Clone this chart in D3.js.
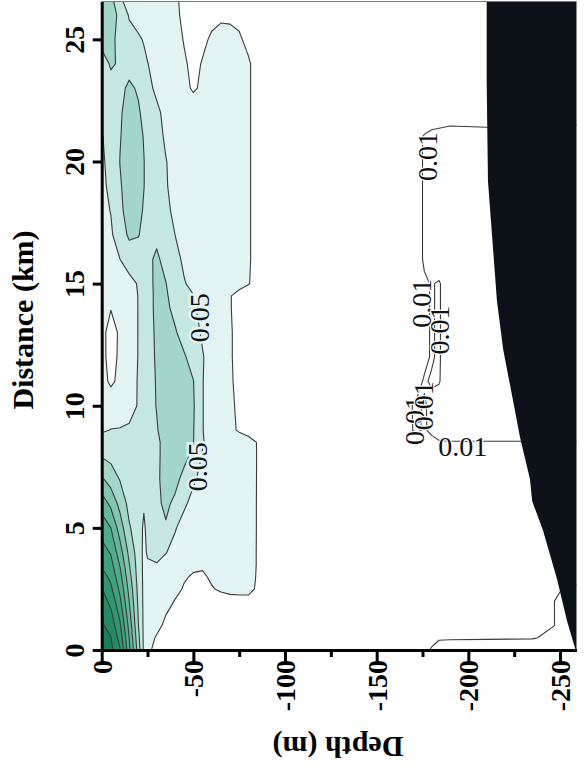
<!DOCTYPE html>
<html><head><meta charset="utf-8">
<script src="https://cdn.jsdelivr.net/npm/d3@7"></script>
<style>
html,body{margin:0;padding:0;background:#fff;}
svg{display:block;}
</style></head><body>
<svg id="chart" width="584" height="770"></svg>
<script>
// ---------------- DATA ----------------
// depth of each grid column (m)
const depthCols = [0,-5,-10,-15,-20,-23,-25,-30,-35,-40,-45,-50,-55,-60,-65,-70,-75,-80,-85,-90,-110,-140,-165,-172,-176,-180,-184,-190,-210,-235,-259];
// distance of each grid row (km)
const distRows = [0,0.5,1,2,2.5,3,3.5,4,5,6,7,8,8.5,9,10,11,12,13,14,14.5,15,16,17,18,19,20,21,22,23,24,25,26,26.6];
// field values, in units of 1e-3 (one row per distance, one entry per depth column)
const field_x1000 = [
[222,215,192,135,80,46,33, 26,24,23,22,22,22,21,21,21,21,21,21,20, 18,15,11,10.8,10.5,9.8,8,8,8,8,8],
[218,210.8,181.7,130,75,46,36, 28.5,25,24,23,23,23,22,22,22,22,22,22,21, 18,15,12,11.5,11,10.6,10.5,10.4,10.3,10.2,8.5],
[213,202.5,173.3,123.3,70.5,46,40, 34,27,25,24,24,24,24,24,24,24,24,23,22, 19,16,13,12.5,12,11.8,11.6,11.5,11.2,11,9],
[199,184.7,154,110,66,46,43, 40,34,29.5,27,26,26,26.5,27,27.5,28,28,27,25, 19,16,13,12.5,12,11.8,11.6,11.5,11.2,11,9],
[191.5,174.2,145,104,64,46,44, 41,37,33,29,28,28.5,29.5,31,32,32,32,29,26, 20,16,13,13,12.5,12,12,12,11.5,11,9.5],
[178.6,165,136.7,97.2,62,46,44, 42,39,35,31,29,29,31,33,34,34,34,29,25, 20,17,14,13.5,13,12.5,12.5,12.5,12,12,11],
[166.7,156.7,128.1,90.8,61,46,48, 49.5,46,40,35,32,31,33,35,36,36,36,29,25, 20,17,14,13.5,13,12.5,12.5,12.5,12,12,11.5],
[158.3,148.2,118.6,84.7,60,46,52, 53,50.5,46,41,37,35,35,36,37,37,36,29,25, 20,17,14,13.5,13,12.5,12.5,12.5,12,12,11.5],
[141.7,130,100.4,72.1,59,47,55, 63,68,51,45,41,38,37,37,37,37,37,29,25, 20,17,14,13.5,13,12.5,12.5,12.5,12,12,12],
[121.4,105,83.3,64,58,52,57, 66,74,66,52,46,41,39,38,38,38,37,29,25, 20,17,14,13.5,13,12.5,12.5,12.5,12,12,12],
[92.9,81.1,68.7,62,58,56,57, 66,78,76,64,52,46,42,40,39,39,38,29,25, 20,17,14,13.5,13,12.5,12.5,12.5,12,12,12],
[67.1,63.5,62,58,56,55,56, 64,80,82,76,66,49,44,41,40,40,39,29,25, 20,17,13,12.5,12,12,12,12,12,12,12],
[57.6,57,54,53,53,54,56, 64,80,83,79,70.5,51,45,41,39,37,34,29.5,25, 19,16,12,11.5,11,10.8,10.3,10.2,10.2,10.2,10.2],
[48,50.5,51,52,53,55,58, 68,82,86,84,71,50.5,44,40,33,28.5,26,25,24, 19,15,10.8,9.6,10.3,9.4,8.5,8,8,8,8],
[42,40,41,45,51,56,60, 71,84,88,86,72,50.5,44,38,32,28,26,25,24, 19,15,10.5,9.7,10.2,9.5,8.5,8,8,8,8],
[36,27,34,44,51,55,58, 72,84,88,84,70.5,50.5,44,38,31,28,26,25,24, 20,16,11.5,10.6,9.8,10.2,10.2,8,8,8,8],
[35,24,33,43,50.5,54,57, 74,82,82,72,62,51,44,38,31,27,25,24,23, 20,16,12,11,10.5,9.8,10.3,8,8,8,8],
[34,25,32,42,50.5,54,58, 75,78,72,62,56,48,42,37,31,27,25,24,23, 20,16,12,11,10.5,9.8,10.3,8,8,8,8],
[34,30.5,33,42,50.5,56,60, 76,74,65,58,52,45,41,36,30.5,27,25,24,23, 20,16,12,11,10.5,9.8,10.3,8,8,8,8],
[34,33,35,43,50.5,56,60, 76,72.5,62,56,50.5,45,41,36,30.5,27,25,24,23, 20,16,12,11,10.5,9.8,10.3,8,8,8,8],
[40,41,43,46,51,55,60, 77,70.5,60,51,46,42,39,37,35,33,30.5,27,25, 20,16,12,11,10.5,9.8,10.3,8,8,8,8],
[38,42,50,56,60,63,66, 73,64,55,47,42,39,37,35,34,32.5,31,27,25, 21,17,13,11.5,9.5,8,8,8,8,8,8],
[43,48,58,74,71,65,64, 66,60,50,45,41,38,36,35,34,33,31,27,25, 21,17,13,11.5,9.5,8,8,8,8,8,8],
[46,50.5,66,78,76,68,63, 58,53,47,43,40,38,36,35,34,33,31,27,25, 21,17,13,11.5,9.5,8,8,8,8,8,8],
[47,53,68,80,78,70.5,65, 58,51,46,42,39,37,36,35,34,33,31,27,25, 21,17,13,11.5,9.5,8,8,8,8,8,8],
[48,54,70.5,80,78,70.5,65, 57,50.5,46,42,39,37,36,35,34,33,31,27,25, 21,17,13,11.5,9.5,8,8,8,8,8,8],
[49,56,69,79,76,69,64, 55,48,45,41,38,37,36,35,34,33,31,27,25, 21,17,13,11.5,9.5,8.5,8,7.5,8,8.5,8],
[52,58,68,77,72,66,62, 53,46,43,40,37,36,35,35,34,33,31,27,25, 22,18,15,14,14,13.5,13.5,13,13,12.5,12],
[60,64,66,73,68,58,54, 47,42,38,33,28.5,32,34,34,34,33,31,27,25, 22,18,15,14,14,13.5,13.5,13,13,12.5,12],
[62,72,68,64,58,53,50.5, 44,40,36,31,28,30.5,33,34,34,33,31,27,25, 22,18,15,14,14,13.5,13.5,13,13,12.5,12],
[76,74,65,58,52,49,46, 41,37,33,29.5,27,28.5,31,33,32.5,31,28,26,24, 22,18,15,14,14,13.5,13.5,13,13,12.5,12],
[78,77,66,48,44,41,39, 36,34,31,29,27,27,28,28.5,28.5,28,26,25,24, 22,18,15,14,14,13.5,13.5,13,13,12.5,12],
[78,77,52,45,42,40,38, 35,33,31,28.5,27,27,27,27.5,27.5,27,26,25,24, 22,18,15,14,14,13.5,13.5,13,13,12.5,12]
];
const levels = [0.01,0.03,0.05,0.07,0.09,0.11,0.13,0.15,0.17,0.19,0.21,0.23];
const bandColors = [null,"#e2f3f3","#c4e7e1","#a2d6ca","#80c6b1","#64b99c","#4eae8b","#3da37d","#2f9870","#238c63","#198059","#11744e"];
// bottom (bathymetry)
const bathyDist  = [0, 1.2, 2.9, 4.9, 6.1, 7, 8.7, 10.2, 12.3, 14.3, 16.4, 19.2, 23.3, 26.6];
const bathyDepth = [-258.5,-253.8,-248.4,-240.7,-234.8,-233.6,-228.2,-224.4,-219,-215.6,-213.5,-210.7,-210,-210];
// axes
const depthTicks = [0,-50,-100,-150,-200,-250];
const depthMinorTicks = [-25,-75,-125,-175,-225];
const distTicks = [0,5,10,15,20,25];
// contour labels
const labelText  = ["0.05","0.05","0.01","0.01","0.01","0.01","0.01","0.01"];
const labelDepth = [-53.6,-52,-177.5,-174.7,-184,-170.4,-175.8,-197];
const labelDist  = [13.6,7.5,20.2,14.2,13.1,9.4,10.0,8.35];
const labelRot   = [-90,-90,-90,-90,-90,-90,-90,0];

// ---------------- CHART ----------------
const svg = d3.select("#chart");
const x = d3.scaleLinear().domain([0,-259]).range([101.7,576.5]);
const y = d3.scaleLinear().domain([0,26.55]).range([650,1.5]);
const serif = "'Liberation Serif','Times New Roman',serif";

svg.append("defs").append("clipPath").attr("id","plot")
  .append("rect").attr("x",x(0)).attr("y",y(26.55))
  .attr("width",x(-259)-x(0)).attr("height",y(0)-y(26.55));

// padded grid
const nc = depthCols.length, nr = distRows.length;
const n = nc+2, m = nr+2;
const values = new Array(n*m);
for (let j=0;j<m;j++){
  const row = field_x1000[Math.min(nr-1,Math.max(0,j-1))];
  for (let i=0;i<n;i++){
    values[j*n+i] = row[Math.min(nc-1,Math.max(0,i-1))]/1000;
  }
}
const colMap = d3.scaleLinear().domain(d3.range(n)).range([10,...depthCols,-275]).clamp(true);
const rowMap = d3.scaleLinear().domain(d3.range(m)).range([-1,...distRows,27.8]).clamp(true);
const proj = d3.geoTransform({point:function(px,py){
  this.stream.point(x(colMap(px-0.5)), y(rowMap(py-0.5)));
}});
const path = d3.geoPath(proj);
const contours = d3.contours().size([n,m]).thresholds(levels)(values);

const g = svg.append("g").attr("clip-path","url(#plot)");
g.selectAll("path.fill").data(contours.filter((c,k)=>bandColors[k]))
  .join("path").attr("class","fill")
  .attr("d",path).attr("fill",(c)=>bandColors[levels.indexOf(c.value)]).attr("stroke","none");
g.selectAll("path.line").data(contours).join("path").attr("class","line")
  .attr("d",path).attr("fill","none").attr("stroke","#3a3a3a").attr("stroke-width",1.1)
  .attr("stroke-linejoin","round");

// bathymetry
const bathyPts = bathyDist.map((s,i)=>[bathyDepth[i],s]);
const bathyPoly = [...bathyPts,[-262,26.6],[-262,0]];
g.append("path")
  .attr("d", d3.line().x(p=>x(p[0])).y(p=>y(p[1]))(bathyPoly)+"Z")
  .attr("fill","#0d1219");

// contour labels
labelText.forEach((t,i)=>{
  const px = x(labelDepth[i]), py = y(labelDist[i]);
  const halo = t==="0.05" ? "#e2f3f3" : "#ffffff";
  svg.append("text").attr("transform",`translate(${px},${py}) rotate(${labelRot[i]})`)
    .attr("text-anchor","middle").attr("dominant-baseline","central")
    .attr("font-family",serif).attr("font-size",28)
    .attr("fill","#111").attr("stroke",halo).attr("stroke-width",t==="0.05"?5:2.5)
    .attr("paint-order","stroke").text(t);
});

// frame (top)
svg.append("line").attr("x1",x(0)).attr("x2",x(-259)).attr("y1",y(26.55)).attr("y2",y(26.55))
  .attr("stroke","#777").attr("stroke-width",1.2);

// axes
const xAxis = svg.append("g").attr("transform",`translate(0,${y(0)})`)
  .call(d3.axisBottom(x).tickValues(depthTicks).tickSize(12).tickSizeOuter(0).tickFormat(d=>String(d)));
svg.append("g").attr("transform",`translate(0,${y(0)})`)
  .call(d3.axisBottom(x).tickValues(depthMinorTicks).tickSize(7).tickSizeOuter(0).tickFormat(""))
  .call(a=>a.select(".domain").remove())
  .selectAll("line").attr("stroke","#000").attr("stroke-width",3);
xAxis.select(".domain").attr("stroke","#000").attr("stroke-width",3);
xAxis.selectAll(".tick line").attr("stroke","#000").attr("stroke-width",3);
xAxis.selectAll(".tick text")
  .attr("transform","rotate(-90)").attr("x",-10).attr("y",9.5).attr("dy",0)
  .attr("text-anchor","end").attr("font-family",serif).attr("font-weight","bold")
  .attr("font-size",28).attr("fill","#000");

const yAxis = svg.append("g").attr("transform",`translate(${x(0)},0)`)
  .call(d3.axisLeft(y).tickValues(distTicks).tickSize(9).tickSizeOuter(0).tickFormat(d=>String(d)));
yAxis.select(".domain").attr("stroke","#000").attr("stroke-width",3);
yAxis.selectAll(".tick line").attr("stroke","#000").attr("stroke-width",3);
yAxis.selectAll(".tick text")
  .attr("transform","rotate(-90)").attr("x",0).attr("y",-18).attr("dy",0)
  .attr("text-anchor","middle").attr("font-family",serif).attr("font-weight","bold")
  .attr("font-size",28).attr("fill","#000");

// titles
svg.append("text").attr("transform","translate(33,320) rotate(-90)")
  .attr("text-anchor","middle").attr("font-family",serif).attr("font-weight","bold")
  .attr("font-size",30).text("Distance (km)");
svg.append("text").attr("transform","translate(338,737) rotate(180)")
  .attr("text-anchor","middle").attr("font-family",serif).attr("font-weight","bold")
  .attr("font-size",30).text("Depth (m)");
</script>
</body></html>
